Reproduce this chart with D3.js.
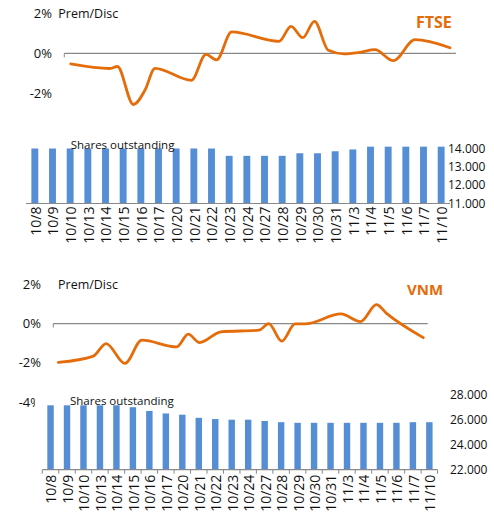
<!DOCTYPE html>
<html>
<head>
<meta charset="utf-8">
<script src="https://cdn.jsdelivr.net/npm/d3@7/dist/d3.min.js"></script>
<style>
  html, body { margin: 0; padding: 0; background: #fff; }
  svg { display: block; font-family: "Open Sans", "Noto Sans", sans-serif; }
</style>
</head>
<body>
<svg id="chart" width="494" height="512"></svg>
<script>
// ---------------- DATA ----------------
const dates = ["10/8","10/9","10/10","10/13","10/14","10/15","10/16","10/17","10/20","10/21","10/22",
               "10/23","10/24","10/27","10/28","10/29","10/30","10/31","11/3","11/4","11/5","11/6","11/7","11/10"];

// FTSE premium/discount (%), observation time in trading days from 10/8
const ftseT    = [0, 2.38, 2.83, 3.8, 4.5, 5.11, 7.32, 8.2, 8.84, 9.76, 12.63, 13.36, 14.07, 14.78, 15.62, 16.57, 17.54, 18.45, 19.56, 20.88, 23];
const ftsePrem = [-0.53, -0.76, -0.66, -2.56, -1.85, -0.75, -1.35, -0.05, -0.33, 1.07, 0.6, 1.35, 0.78, 1.6, 0.15, -0.03, 0.05, 0.18, -0.37, 0.68, 0.28];

// FTSE shares outstanding
const ftseShares = [14000,14000,14000,14000,14000,14000,14000,14000,14000,14000,14000,
                    13600,13600,13600,13600,13740,13740,13850,13950,14100,14100,14100,14100,14100];

// VNM premium/discount (%)
const vnmT    = [0, 2.21, 3.01, 4.2, 5.26, 7.46, 8.19, 8.9, 10.25, 12.65, 13.26, 14.08, 14.92, 15.55, 17.81, 19.04, 20.05, 20.68, 23];
const vnmPrem = [-1.98, -1.66, -1.02, -2.03, -0.85, -1.19, -0.54, -0.97, -0.42, -0.34, 0.0, -0.9, -0.02, -0.02, 0.49, 0.1, 0.96, 0.52, -0.72];

// VNM shares outstanding
const vnmShares = [27150,27150,27150,27150,27150,27000,26700,26500,26400,26150,26050,26000,26000,
                   25900,25800,25750,25750,25750,25750,25750,25750,25750,25800,25800];

const premTicks = [2, 0, -2, -4];
const ftseShareTicks = [11000, 12000, 13000, 14000];
const vnmShareTicks  = [22000, 24000, 26000, 28000];

// ---------------- STYLE ----------------
const ORANGE = "#e46c0a";
const BLUE = "#558ed5";
const AXIS = "#898989";

const locale = d3.formatLocale({decimal: ",", thousands: ".", grouping: [3], currency: ["", ""]});
const fmtShares = locale.format(",.0f");
const fmtPct = d => d + "%";

const svg = d3.select("#chart");

function panel(cfg) {
  const g = svg.append("g");

  // ---- line chart (premium / discount) ----
  const y = d3.scaleLinear().domain([-4, 2]).range([cfg.lineBottom, cfg.lineTop]);
  const x = d3.scaleLinear().domain([0, 23]).range([cfg.axisX0 + cfg.lineInsetL, cfg.axisX1 - cfg.lineInsetR]);

  g.selectAll("text.pct").data(premTicks).join("text")
    .attr("class", "pct")
    .attr("x", cfg.pctRight).attr("y", d => y(d)).attr("dy", "0.35em")
    .attr("text-anchor", "end").attr("font-size", 13).attr("fill", "#111")
    .text(fmtPct);

  g.append("line")
    .attr("x1", cfg.axisX0).attr("x2", cfg.axisX1)
    .attr("y1", y(0)).attr("y2", y(0))
    .attr("stroke", AXIS).attr("stroke-width", 1.2);
  g.append("line")
    .attr("x1", cfg.axisX0).attr("x2", cfg.axisX0)
    .attr("y1", y(0)).attr("y2", y(0) + 4)
    .attr("stroke", AXIS).attr("stroke-width", 1);

  g.append("text").attr("x", cfg.premX).attr("y", y(2)).attr("dy", "0.35em")
    .attr("font-size", 12.5).attr("fill", "#111").text("Prem/Disc");

  g.append("text").attr("x", cfg.nameX).attr("y", cfg.nameY).attr("dy", "0.35em")
    .attr("font-size", cfg.nameSize).attr("font-weight", "bold").attr("fill", ORANGE).text(cfg.name);

  const pts = cfg.t.map((t, i) => [t, cfg.prem[i]]);
  g.append("path").datum(pts)
    .attr("fill", "none").attr("stroke", ORANGE).attr("stroke-width", 2.8)
    .attr("stroke-linejoin", "round").attr("stroke-linecap", "round")
    .attr("d", d3.line().x(d => x(d[0])).y(d => y(d[1])).curve(d3.curveMonotoneX));

  // ---- bar chart (shares outstanding), drawn over the lower part ----
  g.append("rect").attr("x", cfg.coverX).attr("y", cfg.coverY)
    .attr("width", 494 - cfg.coverX).attr("height", cfg.coverH).attr("fill", "#fff");

  const xb = d3.scaleBand().domain(dates).range([cfg.barX0, cfg.barX1]).padding(0);
  const yb = d3.scaleLinear().domain(cfg.shareDomain).range([cfg.barBase, cfg.barTop]);
  const bw = xb.bandwidth() * 0.39;

  g.selectAll("rect.bar").data(cfg.shares).join("rect")
    .attr("class", "bar")
    .attr("x", (d, i) => xb(dates[i]) + xb.bandwidth() / 2 - bw / 2)
    .attr("width", bw)
    .attr("y", d => yb(d))
    .attr("height", d => yb(cfg.shareDomain[0]) - yb(d))
    .attr("fill", BLUE);

  g.append("line")
    .attr("x1", cfg.barX0).attr("x2", cfg.barX1)
    .attr("y1", cfg.barBase).attr("y2", cfg.barBase)
    .attr("stroke", AXIS).attr("stroke-width", 1.2);

  if (cfg.ticks) {
    const bounds = dates.map(d => xb(d)).concat([cfg.barX1]);
    g.selectAll("line.tk").data(bounds).join("line")
      .attr("class", "tk")
      .attr("x1", d => d).attr("x2", d => d)
      .attr("y1", cfg.barBase).attr("y2", cfg.barBase + 4)
      .attr("stroke", AXIS).attr("stroke-width", 1);
  }

  g.selectAll("text.dt").data(dates).join("text")
    .attr("class", "dt")
    .attr("transform", d => `translate(${xb(d) + xb.bandwidth() / 2 + 1},${cfg.barBase + cfg.labelGap}) rotate(-90)`)
    .attr("dy", "0.35em").attr("text-anchor", "end")
    .attr("font-size", 14).attr("fill", "#111")
    .text(d => d);

  g.selectAll("text.sh").data(cfg.shareTicks).join("text")
    .attr("class", "sh")
    .attr("x", cfg.shareLabelX).attr("y", d => yb(d)).attr("dy", "0.35em")
    .attr("font-size", 12).attr("fill", "#111")
    .text(fmtShares);

  g.append("text").attr("x", cfg.sharesTitleX).attr("y", cfg.sharesTitleY).attr("dy", "0.35em")
    .attr("font-size", 11.5).attr("fill", "#111").text("Shares outstanding");
}

panel({
  name: "FTSE", nameX: 416, nameY: 22.5, nameSize: 16,
  t: ftseT, prem: ftsePrem, shares: ftseShares,
  lineTop: 13.3, lineBottom: 133.3,
  axisX0: 64.3, axisX1: 456, lineInsetL: 6.4, lineInsetR: 6,
  pctRight: 52, premX: 58.3,
  coverX: 20, coverY: 128, coverH: 125,
  barX0: 26, barX1: 450, barBase: 203.5, barTop: 148.5, shareDomain: [11000, 14000],
  shareTicks: ftseShareTicks, shareLabelX: 448, ticks: false, labelGap: 3,
  sharesTitleX: 70.7, sharesTitleY: 144.7
});

panel({
  name: "VNM", nameX: 407, nameY: 290, nameSize: 15,
  t: vnmT, prem: vnmPrem, shares: vnmShares,
  lineTop: 284.3, lineBottom: 402,
  axisX0: 53.3, axisX1: 427.7, lineInsetL: 5, lineInsetR: 4.4,
  pctRight: 41, premX: 58,
  coverX: 35, coverY: 388, coverH: 124,
  barX0: 42.3, barX1: 437.6, barBase: 469.7, barTop: 394.7, shareDomain: [22000, 28000],
  shareTicks: vnmShareTicks, shareLabelX: 450, ticks: true, labelGap: 5,
  sharesTitleX: 70, sharesTitleY: 401.3
});
</script>
</body>
</html>
